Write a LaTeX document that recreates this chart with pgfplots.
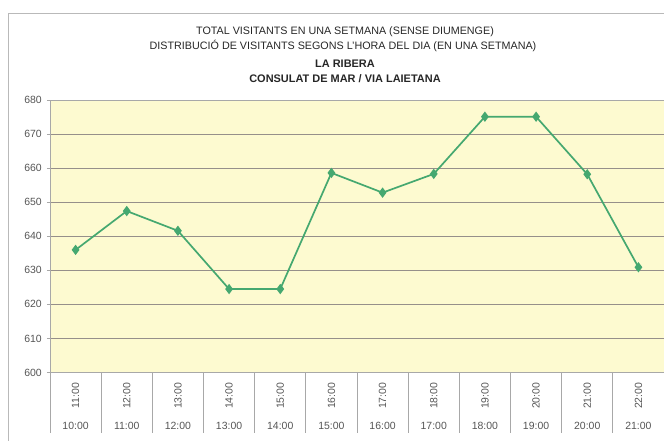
\documentclass[border=0pt]{standalone}
\usepackage{fontspec}
\setmainfont{Liberation Sans}
\usepackage{graphicx}
\usepackage{pgfplots}
\usepackage{pgfplotstable}
\pgfplotsset{compat=1.18}
\definecolor{bgy}{HTML}{FDFAD0}
\definecolor{lgreen}{HTML}{45A870}
\definecolor{gridc}{HTML}{968F8A}
\definecolor{axc}{HTML}{A8A8A8}
\definecolor{txt}{HTML}{555555}
\pgfplotstableread{
x y
0.5 636
1.5 647.4
2.5 641.6
3.5 624.5
4.5 624.5
5.5 658.6
6.5 652.8
7.5 658.3
8.5 675.1
9.5 675.1
10.5 658.2
11.5 630.9
}\datatable
\begin{document}
\begin{tikzpicture}
\path[use as bounding box] (0,0) rectangle (664bp,441bp);
\draw[axc!80, line width=0.8bp] (8bp,0) -- (8bp,428bp) -- (664bp,428bp);
\begin{scope}[every node/.style={font=\fontsize{10.8}{12}\selectfont, text=black!85, anchor=base, inner sep=0pt}]
\node at (345bp,406bp) {TOTAL VISITANTS EN UNA SETMANA (SENSE DIUMENGE)};
\node at (343bp,391bp) {DISTRIBUCIÓ DE VISITANTS SEGONS L'HORA DEL DIA (EN UNA SETMANA)};
\node[font=\fontsize{11}{12}\selectfont\bfseries] at (345bp,373.5bp) {LA RIBERA};
\node[font=\fontsize{11}{12}\selectfont\bfseries] at (345bp,358bp) {CONSULAT DE MAR / VIA LAIETANA};
\end{scope}
\begin{axis}[
  at={(50bp,68.5bp)}, anchor=south west,
  scale only axis, width=614bp, height=272.5bp,
  xmin=0, xmax=12, ymin=600, ymax=680,
  axis background/.style={fill=bgy},
  axis line style={axc, line width=0.8bp},
  every tick/.style={axc, line width=0.8bp},
  tick pos=left, tick align=outside,
  major tick length=3bp,
  minor tick length=60bp,
  /pgf/number format/assume math mode=true,
  ytick={600,610,...,680},
  ymajorgrids, major grid style={gridc, line width=0.8bp},
  yticklabel style={font=\fontsize{10.5}{11}\selectfont, text=txt, inner sep=0pt, xshift=-5bp},
  xtick={0,...,12},
  minor xtick={0,...,12},
  xticklabels={\rotatebox{90}{11:00},\rotatebox{90}{12:00},\rotatebox{90}{13:00},\rotatebox{90}{14:00},\rotatebox{90}{15:00},\rotatebox{90}{16:00},\rotatebox{90}{17:00},\rotatebox{90}{18:00},\rotatebox{90}{19:00},\rotatebox{90}{20:00},\rotatebox{90}{21:00},\rotatebox{90}{22:00},{}},
  xticklabel style={font=\fontsize{10.5}{11}\selectfont, text=txt, anchor=north, inner sep=0pt, xshift=25.58bp, yshift=-7bp},
  extra x ticks={0,...,11},
  extra x tick labels={10:00,11:00,12:00,13:00,14:00,15:00,16:00,17:00,18:00,19:00,20:00,21:00},
  extra x tick style={xticklabel style={yshift=-39bp}},
]
\addplot[lgreen, line width=1.7bp, mark=diamond*, mark size=3.8bp, mark options={solid, fill=lgreen}] table {\datatable};
\end{axis}
\end{tikzpicture}
\end{document}
